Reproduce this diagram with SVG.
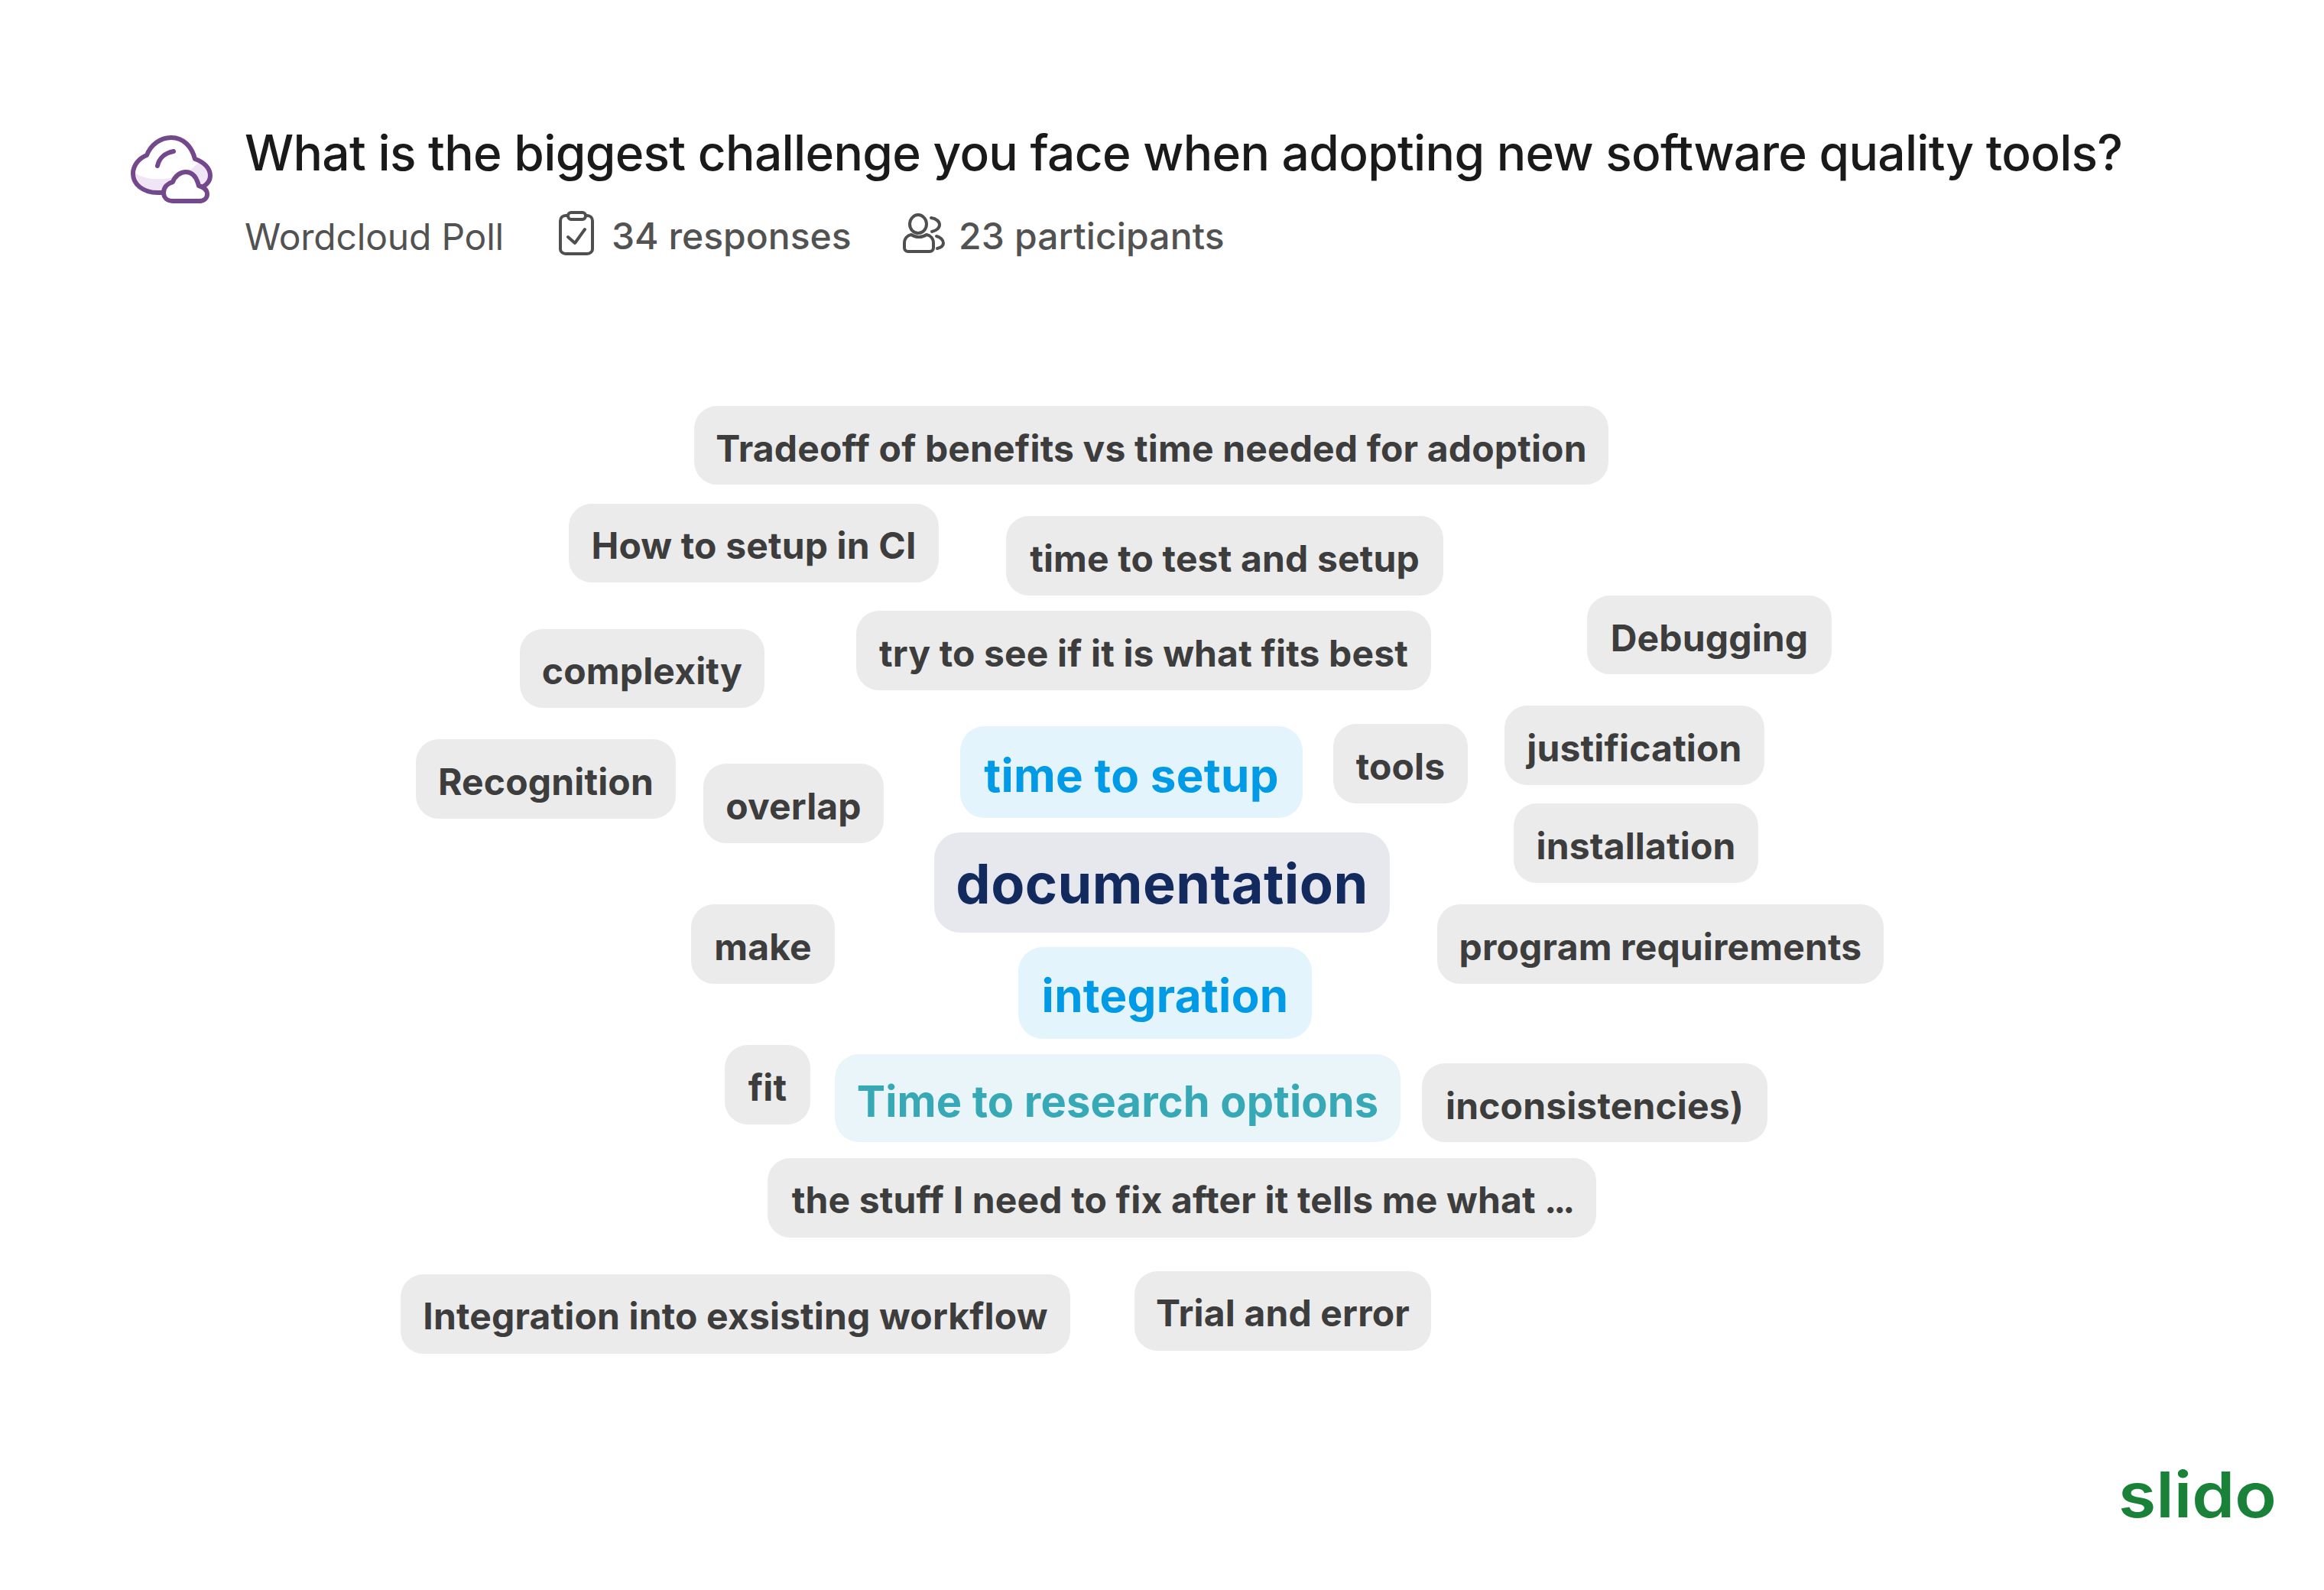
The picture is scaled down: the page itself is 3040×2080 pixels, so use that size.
<svg xmlns="http://www.w3.org/2000/svg" width="3040" height="2080" viewBox="0 0 3040 2080">
<style>
text{font-family:Inter,"Noto Sans",sans-serif}
.g rect{fill:#ebebeb}.g text{fill:#3d3d3d;font-size:48px;font-weight:700;letter-spacing:.15px;text-anchor:middle}
.b rect{fill:#e3f4fc}.b text{fill:#009ae6;font-size:60px;font-weight:700;letter-spacing:.3px;text-anchor:middle}
.t rect{fill:#e9f5f8}.t text{fill:#37a9b6;font-size:56px;font-weight:700;letter-spacing:.16px;text-anchor:middle}
.d rect{fill:#e7e8ee}.d text{fill:#122a5e;font-size:72px;font-weight:700;letter-spacing:.45px;text-anchor:middle}
.ic{fill:none;stroke:#4f4f4f;stroke-width:4;stroke-linecap:round;stroke-linejoin:round}
.cl{stroke:#74488c;stroke-width:6;stroke-linecap:round;stroke-linejoin:round}
</style>
<rect width="3040" height="2080" fill="#fff"/>
<g id="cloud-icon">
<path d="M177 226C190 238 236 240 260 212C270 218 273 226 273 232C272 240 268 244 264 246L214 252H206C190 252 180 240 177 226Z" fill="#f0e5f5"/>
<path class="cl" fill="none" d="M214 252H206C187 252 174 241 174 227C174 216 182 207 192 203C197 190 209 180 224 180C240 180 251 192 255 208C267 212 275 220 275 230C275 236 271 241 266 244"/>
<path class="cl" fill="none" d="M206 217C208 207 216 200 227 198"/>
<path class="cl" fill="#fff" d="M226 263C218 263 214 258 214 252C214 245 219 240 226 238C229 230 236 225 243 225C251 225 257 231 260 243C267 245 271 249 271 254C271 259 267 263 260 263Z"/>
</g>
<g id="header">
<text x="320" y="223" font-size="64" font-weight="500" letter-spacing="-.68" fill="#1a1a1a">What is the biggest challenge you face when adopting new software quality tools?</text>
<text x="320" y="327" font-size="48" letter-spacing="-.2" fill="#525252">Wordcloud Poll</text>
<path class="ic" d="M743 282H740C736 282 733 285 733 289V326C733 329 736 332 740 332H768C772 332 775 329 775 326V289C775 285 772 282 768 282H766M747 278H762C764 278 766 280 766 282C766 285 764 287 762 287H747C745 287 743 285 743 282C743 280 745 278 747 278ZM743 310L752 318L765 300"/>
<text x="800" y="326" font-size="48" font-weight="500" fill="#525252">34 responses</text>
<path class="ic" d="M1201 281C1207 281 1212 287 1212 293C1212 300 1207 305 1201 305C1195 305 1190 300 1190 293C1190 287 1195 281 1201 281ZM1192 307C1187 308 1183 312 1183 318V324C1183 327 1185 329 1188 329H1216C1219 329 1221 327 1221 324V318C1221 312 1217 308 1212 307C1206 311 1198 311 1192 307ZM1218 285C1225 286 1229 290 1229 294C1229 298 1225 302 1219 303M1225 309C1230 310 1234 314 1234 318C1234 322 1230 324 1226 325"/>
<text x="1254" y="326" font-size="48" font-weight="500" letter-spacing=".15" fill="#525252">23 participants</text>
</g>
<g id="word-1" class="g"><rect x="908" y="531" width="1196" height="103" rx="30"/><text x="1506" y="604">Tradeoff of benefits vs time needed for adoption</text></g>
<g id="word-2" class="g"><rect x="744" y="659" width="484" height="103" rx="30"/><text x="986" y="731">How to setup in CI</text></g>
<g id="word-3" class="g"><rect x="1316" y="675" width="572" height="104" rx="30"/><text x="1602" y="748">time to test and setup</text></g>
<g id="word-4" class="g"><rect x="680" y="823" width="320" height="103" rx="30"/><text x="840" y="895">complexity</text></g>
<g id="word-5" class="g"><rect x="1120" y="799" width="752" height="104" rx="30"/><text x="1496" y="872">try to see if it is what fits best</text></g>
<g id="word-6" class="g"><rect x="2076" y="779" width="320" height="103" rx="30"/><text x="2236" y="852">Debugging</text></g>
<g id="word-7" class="g"><rect x="544" y="967" width="340" height="104" rx="30"/><text x="714" y="1040">Recognition</text></g>
<g id="word-8" class="g"><rect x="920" y="999" width="236" height="104" rx="30"/><text x="1038" y="1072">overlap</text></g>
<g id="word-9" class="b"><rect x="1256" y="950" width="448" height="120" rx="32"/><text x="1480" y="1036">time to setup</text></g>
<g id="word-10" class="g"><rect x="1744" y="947" width="176" height="104" rx="30"/><text x="1832" y="1020">tools</text></g>
<g id="word-11" class="g"><rect x="1968" y="923" width="340" height="104" rx="30"/><text x="2138" y="996">justification</text></g>
<g id="word-12" class="g"><rect x="1980" y="1051" width="320" height="104" rx="30"/><text x="2140" y="1124">installation</text></g>
<g id="word-13" class="d"><rect x="1222" y="1089" width="596" height="131" rx="34"/><text x="1520" y="1182">documentation</text></g>
<g id="word-14" class="g"><rect x="904" y="1183" width="188" height="104" rx="30"/><text x="998" y="1256">make</text></g>
<g id="word-15" class="g"><rect x="1880" y="1183" width="584" height="104" rx="30"/><text x="2172" y="1256">program requirements</text></g>
<g id="word-16" class="b"><rect x="1332" y="1239" width="384" height="120" rx="32"/><text x="1524" y="1324">integration</text></g>
<g id="word-17" class="g"><rect x="948" y="1367" width="112" height="104" rx="30"/><text x="1004" y="1440">fit</text></g>
<g id="word-18" class="t"><rect x="1092" y="1379" width="740" height="115" rx="32"/><text x="1462" y="1461">Time to research options</text></g>
<g id="word-19" class="g"><rect x="1860" y="1391" width="452" height="103" rx="30"/><text x="2086" y="1464">inconsistencies)</text></g>
<g id="word-20" class="g"><rect x="1004" y="1515" width="1084" height="104" rx="30"/><text x="1546" y="1587">the stuff I need to fix after it tells me what <tspan letter-spacing="-4">...</tspan></text></g>
<g id="word-21" class="g"><rect x="524" y="1667" width="876" height="104" rx="30"/><text x="962" y="1739">Integration into exsisting workflow</text></g>
<g id="word-22" class="g"><rect x="1484" y="1663" width="388" height="104" rx="30"/><text x="1678" y="1735">Trial and error</text></g>
<g id="slido-logo"><text transform="translate(2771 1985) scale(1.095 1)" font-size="82" font-weight="600" fill="#1a8139">slido</text></g>
</svg>
